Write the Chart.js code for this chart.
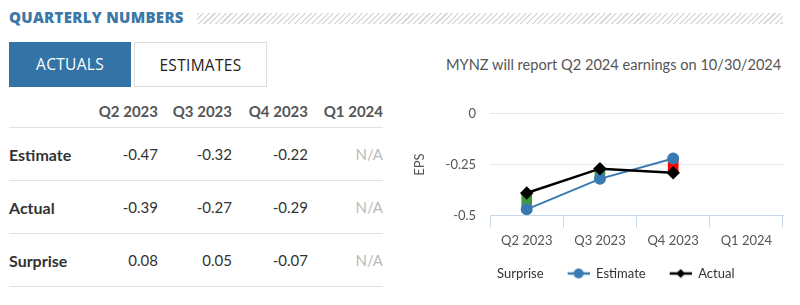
<!DOCTYPE html>
<html>
<head>
<meta charset="utf-8">
<script src="https://cdn.jsdelivr.net/npm/chart.js@4"></script>
<style>
  body { margin: 0; width: 800px; height: 305px; background: #fff; position: relative; overflow: hidden; font-family: Lato, "Open Sans", sans-serif; }
  .title { position: absolute; left: 9px; top: 7px; font-family: "Open Sans", sans-serif; font-weight: 800; font-size: 15px; color: #3b78a8; letter-spacing: 0.3px; }
  .hatch { position: absolute; left: 197px; top: 13px; width: 586px; height: 11px;
    background: repeating-linear-gradient(135deg, #dcdcdc 0 1.5px, #fff 1.5px 4px); }
  .btn { position: absolute; top: 42px; height: 45px; line-height: 45px; text-align: center; font-family: "Open Sans", sans-serif; font-size: 15.5px; font-weight: 500; box-sizing: border-box; letter-spacing: 0.3px; }
  .btn.on { left: 9px; width: 122px; background: #3473a5; color: #fff; }
  .btn.off { left: 134px; width: 133px; border: 1px solid #ddd; color: #222; }
  .note { position: absolute; left: 446px; top: 56px; font-size: 14.6px; color: #555; }
  table { position: absolute; left: 9px; top: 95px; width: 374px; border-collapse: collapse; table-layout: fixed; font-size: 15px; color: #333; }
  th { font-weight: 700; color: #555; text-align: right; height: 32px; border-bottom: 1px solid #e2e2e2; padding: 0; }
  td { text-align: right; height: 52px; border-bottom: 1px solid #e2e2e2; padding: 0; }
  td.lbl { text-align: left; font-weight: 700; font-size: 16px; }
  td.na { color: #bbb; }
  #wrap { position: absolute; left: 400px; top: 92px; width: 400px; height: 198px; }
</style>
</head>
<body>
<div class="title">QUARTERLY NUMBERS</div>
<div class="hatch"></div>
<div class="btn on">ACTUALS</div>
<div class="btn off">ESTIMATES</div>
<div class="note">MYNZ will report Q2 2024 earnings on 10/30/2024</div>
<table id="tbl"></table>
<div id="wrap"><canvas id="canvas"></canvas></div>
<script>
// Datos del gráfico
var quarters = ['Q2 2023', 'Q3 2023', 'Q4 2023', 'Q1 2024'];
var estimate = [-0.47, -0.32, -0.22, null];
var actual = [-0.39, -0.27, -0.29, null];
var surprise = [0.08, 0.05, -0.07, null];

/**
 * Tabla de la izquierda
 */
var colWidths = [74, 75, 74, 76, 75];
var tbl = document.getElementById('tbl');
var html = '<colgroup>' + colWidths.map(w => '<col style="width:' + w + 'px">').join('') + '</colgroup>';
html += '<tr><th></th>' + quarters.map(q => '<th>' + q + '</th>').join('') + '</tr>';
[['Estimate', estimate], ['Actual', actual], ['Surprise', surprise]].forEach(function (row) {
    html += '<tr><td class="lbl">' + row[0] + '</td>';
    row[1].forEach(function (v) {
        html += v === null ? '<td class="na">N/A</td>' : '<td>' + v.toFixed(2) + '</td>';
    });
    html += '</tr>';
});
tbl.innerHTML = html;

/**
 * Marcadores de la leyenda: línea con punto (margen a la izquierda)
 */
var ICON_W = 34, ICON_M = 12;
function legendIcon(color, shape) {
    var c = document.createElement('canvas');
    c.width = ICON_W; c.height = 12;
    var ctx = c.getContext('2d');
    if (!color) return c;
    var cx = ICON_M + 11;
    ctx.strokeStyle = color; ctx.fillStyle = color; ctx.lineWidth = 2.5;
    ctx.beginPath(); ctx.moveTo(ICON_M, 6); ctx.lineTo(ICON_W, 6); ctx.stroke();
    ctx.beginPath();
    if (shape === 'circle') {
        ctx.arc(cx, 6, 5, 0, Math.PI * 2);
    } else {
        ctx.moveTo(cx, 1.5); ctx.lineTo(cx + 4.5, 6); ctx.lineTo(cx, 10.5); ctx.lineTo(cx - 4.5, 6); ctx.closePath();
    }
    ctx.fill();
    return c;
}

var bars = quarters.map((q, i) => estimate[i] === null ? null : [estimate[i], actual[i]]);
var barColors = surprise.map(s => s !== null && s < 0 ? '#ff0000' : '#3c9a3c');

var chart = new Chart(document.getElementById('canvas'), {
    data: {
        labels: quarters,
        datasets: [{
            type: 'bar',
            label: 'Surprise',
            data: bars,
            backgroundColor: barColors,
            barThickness: 10,
            order: 3
        }, {
            type: 'line',
            label: 'Estimate',
            data: estimate,
            borderColor: '#3a7ab2',
            backgroundColor: '#3a7ab2',
            borderWidth: 2,
            pointRadius: 5,
            pointStyle: 'circle',
            order: 2
        }, {
            type: 'line',
            label: 'Actual',
            data: actual,
            borderColor: '#000',
            backgroundColor: '#000',
            borderWidth: 2.5,
            pointRadius: 5,
            pointStyle: 'rectRot',
            order: 1
        }]
    },
    options: {
        responsive: true,
        maintainAspectRatio: false,
        animation: false,
        layout: { padding: { top: 0, right: 17, left: 8 } },
        plugins: {
            tooltip: { enabled: false },
            legend: {
                position: 'bottom',
                labels: {
                    usePointStyle: true,
                    pointStyleWidth: ICON_W,
                    color: '#333',
                    padding: 12,
                    font: { family: 'Lato', size: 13 },
                    generateLabels: function (ch) {
                        var icons = [legendIcon(null), legendIcon('#3a7ab2', 'circle'), legendIcon('#000', 'diamond')];
                        return ch.data.datasets.map((ds, i) => ({
                            text: ds.label,
                            pointStyle: icons[i],
                            fillStyle: 'transparent',
                            strokeStyle: 'transparent',
                            lineWidth: 0,
                            datasetIndex: i,
                            fontColor: '#333'
                        }));
                    }
                }
            }
        },
        scales: {
            x: {
                offset: true,
                grid: { offset: true, drawOnChartArea: false, drawTicks: true, tickLength: 12, color: '#c9d6e6' },
                border: { color: '#c9d6e6' },
                ticks: { color: '#555', font: { family: 'Lato', size: 13 }, padding: 6 }
            },
            y: {
                min: -0.5,
                max: 0,
                grid: { color: '#e3e8ef', drawTicks: false },
                border: { display: false },
                ticks: {
                    stepSize: 0.25,
                    color: '#555',
                    font: { family: 'Lato', size: 13 },
                    padding: 14,
                    callback: v => String(Math.round(v * 100) / 100)
                },
                title: { display: true, text: 'EPS', color: '#555', font: { family: 'Lato', size: 13 }, padding: 4 }
            }
        }
    }
});
</script>
</body>
</html>
